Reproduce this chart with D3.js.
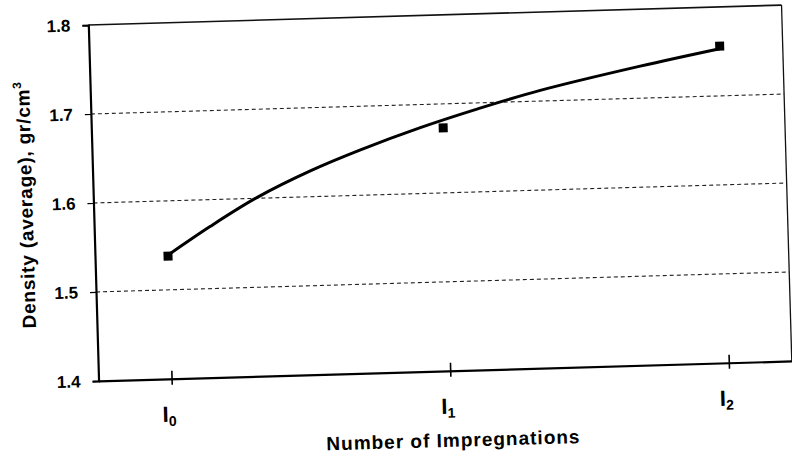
<!DOCTYPE html>
<html lang="en">
<head>
  <meta charset="UTF-8">
  <title>Density vs Number of Impregnations</title>
  <script src="https://d3js.org/d3.v7.min.js"></script>
  <style>
    body { margin: 0; background: #fff; }
    svg { font-family: "Liberation Sans", Arial, sans-serif; font-weight: bold; }
    .grid line { stroke: #222; stroke-width: 1.1; stroke-dasharray: 4,3; }
  </style>
</head>
<body>
  <svg id="chart"></svg>

  <script>
    // categories on the x axis (letter + subscript)
    const categories = ["I", "I", "I"];
    const subscripts = ["0", "1", "2"];
    const catPos = [0, 1, 2];

    // measured average density, gr/cm3
    const density = [1.538, 1.673, 1.756];

    // trend curve
    const trendX = [0, 0.155, 0.326, 0.519, 0.701, 0.918, 1.123, 1.352, 1.713, 2.0];
    const trendY = [1.539, 1.570, 1.601, 1.629, 1.651, 1.674, 1.693, 1.712, 1.736, 1.753];

    // y ticks
    const yTicks = [1.4, 1.5, 1.6, 1.7, 1.8];
    const gridTicks = [1.5, 1.6, 1.7];

    const W = 792, H = 456;
    const margin = {top: 15, right: 5, bottom: 85, left: 93.5};
    const width = W - margin.left - margin.right;
    const height = H - margin.top - margin.bottom;

    const svgRoot = d3.select("#chart").attr("width", W).attr("height", H);

    // the scanned original is tilted a little
    const svg = svgRoot.append("g")
      .attr("transform", "rotate(-1.65,440,200) translate(" + margin.left + "," + margin.top + ")");

    const x = d3.scaleLinear().domain([-0.262, 2.226]).range([0, width]);
    const y = d3.scaleLinear().domain([1.4, 1.8]).range([height, 0]);

    // dashed gridlines
    svg.append("g").attr("class", "grid")
      .selectAll("line")
      .data(gridTicks)
      .enter().append("line")
      .attr("x1", 0).attr("x2", width)
      .attr("y1", d => y(d)).attr("y2", d => y(d));

    // frame top and right
    svg.append("line")
      .attr("x1", 0).attr("x2", width).attr("y1", 0).attr("y2", 0)
      .attr("stroke", "#111").attr("stroke-width", 1.6);
    svg.append("line")
      .attr("x1", width).attr("x2", width).attr("y1", 0).attr("y2", height)
      .attr("stroke", "#111").attr("stroke-width", 1.3);

    // y axis
    const yAxis = svg.append("g")
      .call(d3.axisLeft(y).tickValues(yTicks).tickFormat(d3.format(".1f")).tickSize(6).tickPadding(12));
    yAxis.select(".domain").attr("stroke-width", 2.2);
    yAxis.selectAll(".tick line").attr("stroke-width", 1.2);
    yAxis.selectAll(".tick text")
      .style("font-size", "17px").style("font-weight", "bold").attr("fill", "#000");

    // x axis
    const xAxis = svg.append("g")
      .attr("transform", "translate(0," + height + ")")
      .call(d3.axisBottom(x).tickValues(catPos).tickFormat("").tickSizeOuter(0));
    xAxis.select(".domain").attr("stroke-width", 2.2);
    xAxis.selectAll(".tick line").attr("y1", -8).attr("y2", 6).attr("stroke-width", 1.6);

    // category labels with subscripts
    const lab = xAxis.selectAll(".catlab")
      .data(catPos)
      .enter().append("text")
      .attr("class", "catlab")
      .attr("x", d => x(d) - 3)
      .attr("y", 43)
      .attr("fill", "#000")
      .style("font-size", "22px")
      .style("text-anchor", "middle");
    lab.append("tspan").text((d, i) => categories[i]);
    lab.append("tspan")
      .attr("dy", 4)
      .style("font-size", "14px")
      .text((d, i) => subscripts[i]);

    // trend curve
    const line = d3.line()
      .x(d => x(d[0]))
      .y(d => y(d[1]))
      .curve(d3.curveCatmullRom);
    svg.append("path")
      .datum(trendX.map((v, i) => [v, trendY[i]]))
      .attr("d", line)
      .attr("fill", "none")
      .attr("stroke", "#000")
      .attr("stroke-width", 3);

    // square markers
    svg.append("g")
      .selectAll("rect")
      .data(density)
      .enter().append("rect")
      .attr("x", (d, i) => x(catPos[i]) - 4.5)
      .attr("y", d => y(d) - 4.5)
      .attr("width", 9)
      .attr("height", 9)
      .attr("fill", "#000");

    // axis titles
    svg.append("text")
      .attr("x", 353)
      .attr("y", 432)
      .style("text-anchor", "middle")
      .style("font-size", "19px")
      .style("letter-spacing", "1px")
      .text("Number of Impregnations");

    const yt = svg.append("text")
      .attr("transform", "translate(-61," + (height / 2) + ") rotate(-90)")
      .style("text-anchor", "middle")
      .style("font-size", "19px")
      .style("letter-spacing", "0.8px");
    yt.append("tspan").text("Density (average), gr/cm");
    yt.append("tspan").attr("dy", -8).style("font-size", "12px").text("3");
  </script>
</body>
</html>
